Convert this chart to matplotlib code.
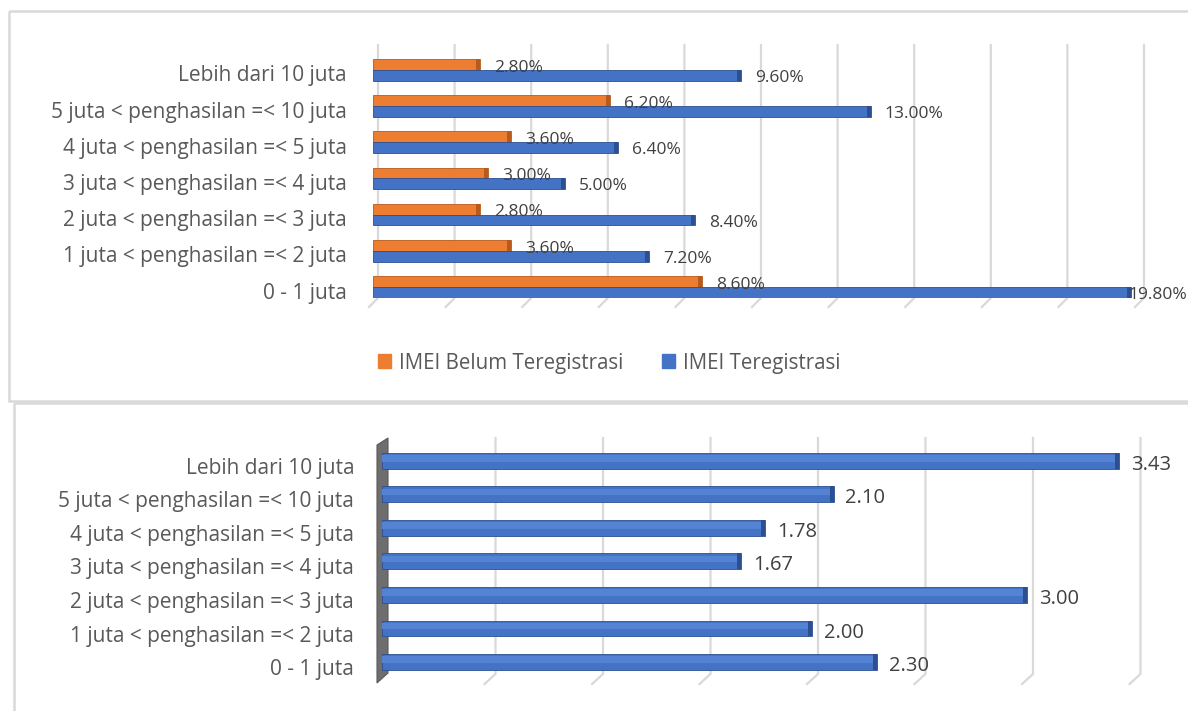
import matplotlib.pyplot as plt
import matplotlib.transforms as mtransforms
from matplotlib.lines import Line2D
from matplotlib.patches import Rectangle, Polygon, Patch
import numpy as np

plt.rcParams['font.family'] = ['Open Sans', 'DejaVu Sans']

# income groups, bottom to top as drawn
kategori = ["0 - 1 juta",
            "1 juta < penghasilan =< 2 juta",
            "2 juta < penghasilan =< 3 juta",
            "3 juta < penghasilan =< 4 juta",
            "4 juta < penghasilan =< 5 juta",
            "5 juta < penghasilan =< 10 juta",
            "Lebih dari 10 juta"]

# share of respondents (%)
belum_teregistrasi = [8.6, 3.6, 2.8, 3.0, 3.6, 6.2, 2.8]
teregistrasi = [19.8, 7.2, 8.4, 5.0, 6.4, 13.0, 9.6]

# second panel values
nilai = [2.30, 2.00, 3.00, 1.67, 1.78, 2.10, 3.43]

W, H = 1188, 711
ORANGE, ORANGE_D = '#ED7D31', '#B85A1C'
BLUE, BLUE_D, BLUE_L = '#4472C4', '#2B4F91', '#5583D3'
GRID = '#D9D9D9'
TXT = '#404040'
LBL = '#595959'

fig = plt.figure(figsize=(W / 100, H / 100), dpi=100)
# image-pixel coordinates (y pointing down)
img = mtransforms.Affine2D().scale(1, -1).translate(0, H)


def rect(x0, y0, x1, y1):
    return [x0 / W, 1 - y1 / H, (x1 - x0) / W, (y1 - y0) / H]


def px_per_unit(ax):
    return ax.transData.transform((1, 0))[0] - ax.transData.transform((0, 0))[0]


def grid3d(ax, ticks, top, bottom, back, front, drop):
    for v in ticks:
        x = ax.transData.transform((v, 0))[0]
        fig.add_artist(Line2D([x + back, x + back, x - front],
                              [top, bottom, bottom + drop],
                              color=GRID, lw=1.6, transform=img, zorder=-1))


def bars3d(ax, y, vals, h, color, dark, light=None):
    cap = 4 / px_per_unit(ax)
    vals = np.asarray(vals)
    ax.barh(y, vals, height=h, color=color, edgecolor=dark, lw=0.6, zorder=3)
    if light is not None:
        ax.barh(y + h * 0.15, vals - cap, height=h * 0.4, color=light,
                lw=0, zorder=3.5)
    ax.barh(y, np.full(len(vals), cap), left=vals - cap, height=h,
            color=dark, lw=0, zorder=4)


# panel frames
fig.add_artist(Rectangle((9, 11), 1200, 390, fill=False, ec=GRID, lw=1.8,
                         transform=img, zorder=-2))
fig.add_artist(Rectangle((14, 403), 1200, 330, fill=False, ec=GRID, lw=1.8,
                         transform=img, zorder=-2))

y = np.arange(len(kategori))

# ---- top panel: registered vs unregistered IMEI ----
ax1 = fig.add_axes(rect(373, 45, 1139, 298))
ax1.set_xlim(0, 20)
ax1.set_ylim(-0.304, 6.685)
ax1.patch.set_visible(False)
for s in ax1.spines.values():
    s.set_visible(False)
ax1.set_xticks([])
ax1.set_yticks(y - 0.1, kategori)
ax1.tick_params(axis='y', length=0, pad=19, labelsize=15, labelcolor=LBL)
grid3d(ax1, np.arange(0, 21, 2), 45, 298, 5, 4, 9)

hb = 0.30
bars3d(ax1, y + hb / 2, belum_teregistrasi, hb, ORANGE, ORANGE_D)
bars3d(ax1, y - hb / 2, teregistrasi, hb, BLUE, BLUE_D)
xmax = ax1.get_xlim()[1]
for i in y:
    ax1.annotate(f"{belum_teregistrasi[i]:.2f}%", (belum_teregistrasi[i], i + 0.06),
                 xytext=(14, 0), textcoords='offset pixels', va='center',
                 ha='left', fontsize=12.5, color=TXT, zorder=5)
    # labels that would run past the plot edge are tucked in
    dx = 14 if teregistrasi[i] < 0.95 * xmax else -3
    ax1.annotate(f"{teregistrasi[i]:.2f}%", (teregistrasi[i], i - 0.22),
                 xytext=(dx, 0), textcoords='offset pixels', va='center',
                 ha='left', fontsize=12.5, color=TXT, zorder=5)

fig.legend(handles=[Patch(color=ORANGE, label='IMEI Belum Teregistrasi'),
                    Patch(color=BLUE, label='IMEI Teregistrasi')],
           loc='center', bbox_to_anchor=(609 / W, 1 - 363 / H), ncol=2,
           frameon=False, fontsize=14.8, labelcolor=LBL, handlelength=0.65,
           handleheight=0.65, handletextpad=0.35, columnspacing=1.9)

# ---- bottom panel ----
ax2 = fig.add_axes(rect(382, 438, 1134.5, 674))
ax2.set_xlim(0, 3.5)
ax2.set_ylim(-0.356, 6.68)
ax2.patch.set_visible(False)
for s in ax2.spines.values():
    s.set_visible(False)
ax2.set_xticks([])
ax2.set_yticks(y - 0.15, kategori)
ax2.tick_params(axis='y', length=0, pad=20, labelsize=15, labelcolor=LBL)
grid3d(ax2, np.arange(0.5, 3.51, 0.5), 438, 674, 6, 5, 10)

# side wall
x0 = ax2.transData.transform((0, 0))[0]
fig.add_artist(Polygon([(x0 - 5, 445), (x0 + 6, 438), (x0 + 6, 673), (x0 - 5, 683)],
                       closed=True, fc='#6E6E6E', ec='#5A5A5A', lw=0.8,
                       transform=img, zorder=-1))

bars3d(ax2, y, nilai, 0.475, BLUE, BLUE_D, BLUE_L)
for i in y:
    ax2.annotate(f"{nilai[i]:.2f}", (nilai[i], i - 0.12),
                 xytext=(12, 0), textcoords='offset pixels', va='center',
                 ha='left', fontsize=14.5, color=TXT, zorder=5)

fig.savefig('out.png', dpi=100)
